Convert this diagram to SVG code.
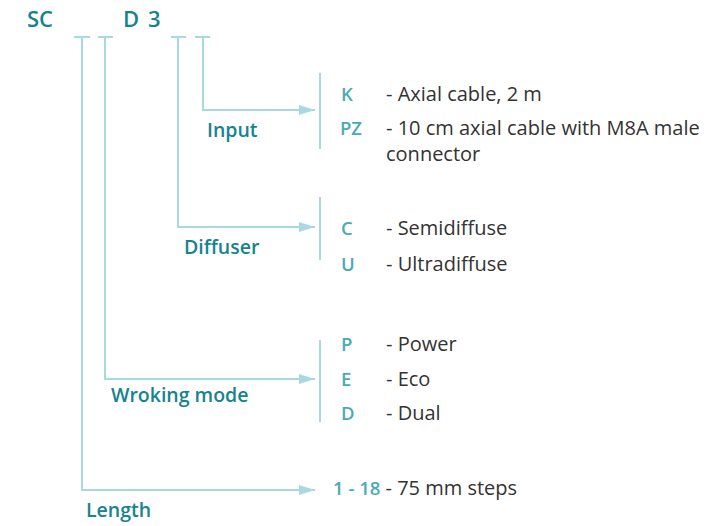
<svg xmlns="http://www.w3.org/2000/svg" width="726" height="526" viewBox="0 0 726 526">
<defs>
<style>
.ln{fill:none;stroke:#a9d9e0;stroke-width:2}
.hd{font-family:"Open Sans","Liberation Sans",sans-serif;font-weight:600;fill:#16838f;font-size:19.5px}
.top{font-size:22px}
.cd{font-family:"Open Sans","Liberation Sans",sans-serif;font-weight:600;fill:#4aaab5;font-size:18.5px}
.tx{font-family:"Open Sans","Liberation Sans",sans-serif;font-weight:400;fill:#333;font-size:20px}
</style>
<marker id="ah" markerWidth="16" markerHeight="10" refX="16" refY="5" orient="auto" markerUnits="userSpaceOnUse">
<path d="M0,0 L16,5 L0,10 Z" fill="#a9d9e0"/>
</marker>
</defs>
<rect width="726" height="526" fill="#fff"/>
<g id="code">
<text class="hd top" x="27" y="27">SC</text>
<text class="hd top" x="123" y="27">D</text>
<text class="hd top" x="148" y="27">3</text>
</g>
<g id="connectors">
<path class="ln" d="M74,37 H90 M98,37 H113 M171,37 H186 M195,37 H210"/>
<path class="ln" d="M82,37 V490 H315" marker-end="url(#ah)"/>
<path class="ln" d="M105,37 V379 H315" marker-end="url(#ah)"/>
<path class="ln" d="M178,37 V227 H315" marker-end="url(#ah)"/>
<path class="ln" d="M203,37 V110 H315" marker-end="url(#ah)"/>
<path class="ln" d="M320,73 V149 M320,197 V260 M320,340 V422"/>
</g>
<g id="input">
<text class="hd" x="207" y="137">Input</text>
<text class="cd" x="341" y="101">K</text>
<text class="tx" x="386" y="101">- Axial cable, 2 m</text>
<text class="cd" x="340" y="135">PZ</text>
<text class="tx" x="386" y="135">- 10 cm axial cable with M8A male</text>
<text class="tx" x="386" y="161">connector</text>
</g>
<g id="diffuser">
<text class="hd" x="184" y="254">Diffuser</text>
<text class="cd" x="341" y="235">C</text>
<text class="tx" x="386" y="235">- Semidiffuse</text>
<text class="cd" x="341" y="271">U</text>
<text class="tx" x="386" y="271">- Ultradiffuse</text>
</g>
<g id="mode">
<text class="hd" x="111" y="402">Wroking mode</text>
<text class="cd" x="341" y="351">P</text>
<text class="tx" x="386" y="351">- Power</text>
<text class="cd" x="341" y="386">E</text>
<text class="tx" x="386" y="386">- Eco</text>
<text class="cd" x="341" y="420">D</text>
<text class="tx" x="386" y="420">- Dual</text>
</g>
<g id="length">
<text class="hd" x="86" y="517">Length</text>
<text x="333" y="495"><tspan class="cd">1 - 18</tspan><tspan class="tx"> - 75 mm steps</tspan></text>
</g>
</svg>
